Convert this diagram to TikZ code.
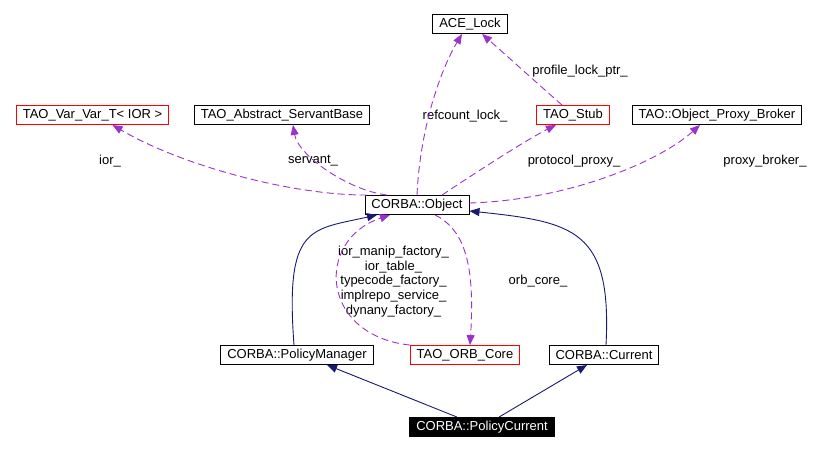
\documentclass[tikz,border=0pt]{standalone}
\usepackage{fontspec}
\setmainfont{Liberation Sans}
\usepackage{xcolor}
\usepackage{tikz}
\usetikzlibrary{positioning, arrows.meta}

\definecolor{usecol}{RGB}{154,50,205}
\definecolor{inhcol}{RGB}{25,25,112}

\begin{document}
\begin{tikzpicture}[
    x=1pt, y=-1pt, on grid,
    cls/.style={draw, line width=0.9pt, fill=white, minimum height=19pt, inner xsep=6.5pt, inner ysep=0pt, font=\fontsize{13}{15}\selectfont},
    undoc/.style={cls, draw=red},
    focus/.style={cls, fill=black, text=white},
    lbl/.style={inner sep=0pt, align=center, font=\fontsize{13}{14.7}\selectfont},
    uses/.style={draw=usecol, line width=0.9pt, dash pattern=on 7pt off 4pt, -{Triangle[length=10pt,width=8pt,fill=usecol]}},
    inherit/.style={draw=inhcol, line width=0.9pt, -{Triangle[length=10pt,width=8pt,fill=inhcol]}}
]
\useasboundingbox (0,0) rectangle (826,451);

% Central class
\node[cls] (obj) at (417,205) {CORBA::Object};

% Members
\node[cls, above right=181pt and 53pt of obj] (lock) {ACE\_Lock};
\node[undoc, above left=90pt and 324.5pt of obj] (var) {TAO\_Var\_Var\_T< IOR >};
\node[cls, above left=90pt and 135pt of obj] (servant) {TAO\_Abstract\_ServantBase};
\node[undoc, above right=90pt and 156pt of obj] (stub) {TAO\_Stub};
\node[cls, above right=90pt and 300pt of obj] (broker) {TAO::Object\_Proxy\_Broker};

% Derived classes
\node[cls, below left=150pt and 120pt of obj] (pm) {CORBA::PolicyManager};
\node[undoc, below right=150pt and 48pt of obj] (core) {TAO\_ORB\_Core};
\node[cls, below right=150pt and 187pt of obj] (cur) {CORBA::Current};
\node[focus, below right=222pt and 65pt of obj] (pc) {CORBA::PolicyCurrent};

% Labels
\node[lbl] (l_ior) at (110,161) {ior\_};
\node[lbl] (l_servant) at (313,161) {servant\_};
\node[lbl] (l_refcount) at (465,116) {refcount\_lock\_};
\node[lbl] (l_profile) at (580,71) {profile\_lock\_ptr\_};
\node[lbl] (l_protocol) at (574,161) {protocol\_proxy\_};
\node[lbl] (l_broker) at (765,161) {proxy\_broker\_};
\node[lbl] (l_orb) at (538,281) {orb\_core\_};
\node[lbl] (l_core) at (393.5,281.5) {ior\_manip\_factory\_\\ior\_table\_\\typecode\_factory\_\\implrepo\_service\_\\dynany\_factory\_};

% Usage edges
\draw[uses] ([xshift=2pt]obj.north west) .. controls +(-77,0) and +(68,40) .. ([xshift=20pt]var.south);
\draw[uses] ([xshift=-30pt]obj.north) .. controls +(-40,-5) and +(5,30) .. ([xshift=11pt]servant.south);
\draw[uses] (obj.north) .. controls +(3,-66) and +(-22,37) .. ([xshift=-8pt]lock.south);
\draw[uses] ([xshift=-11pt]stub.north) .. controls +(-25,-22) and +(25,22) .. ([xshift=12pt]lock.south);
\draw[uses] ([xshift=25pt]obj.north) .. controls +(30,-20) and +(-30,15) .. ([xshift=-17pt]stub.south);
\draw[uses] ([yshift=2pt]obj.east) .. controls +(100,-3) and +(-40,36) .. ([xshift=-17pt]broker.south);
\draw[uses] ([xshift=18pt]obj.south) .. controls +(30,15) and +(5,-80) .. ([xshift=5pt]core.north);
\draw[uses] (core.north west) .. controls +(-90,-10) and +(-75,25) .. ([xshift=-27pt]obj.south);

% Inheritance edges
\draw[inherit] ([xshift=-3pt]pm.north) .. controls +(-9,-120) and +(-67,15) .. ([xshift=-40pt]obj.south);
\draw[inherit] ([xshift=2pt]cur.north) .. controls +(6,-115) and +(105,11) .. ([yshift=-6pt]obj.east);
\draw[inherit] ([xshift=-25pt]pc.north) -- ([xshift=30pt]pm.south);
\draw[inherit] ([xshift=17pt]pc.north) -- ([xshift=-17pt]cur.south);

\end{tikzpicture}
\end{document}
